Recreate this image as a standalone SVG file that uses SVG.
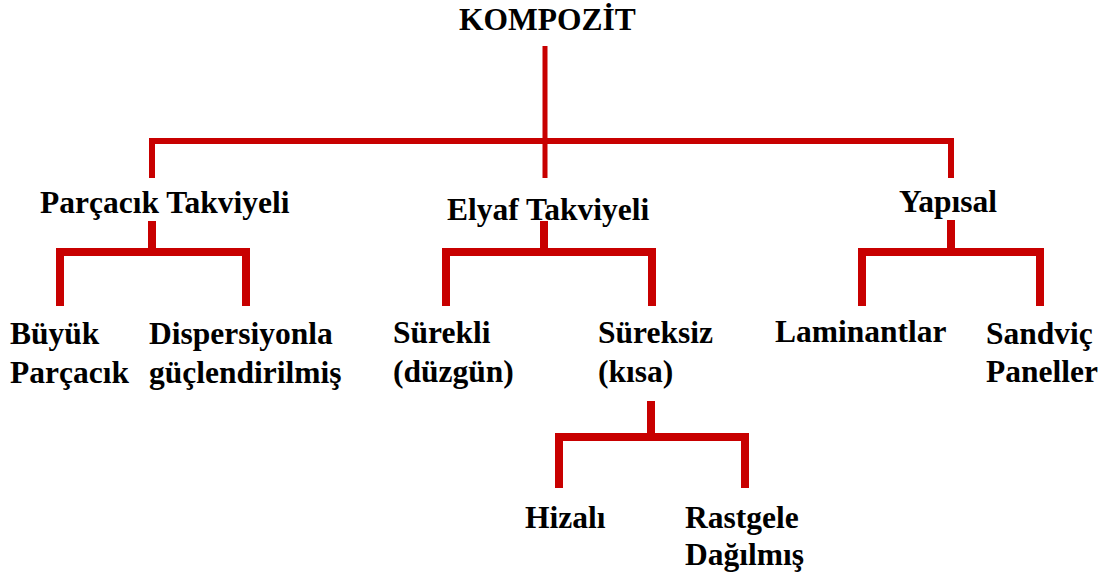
<svg xmlns="http://www.w3.org/2000/svg" width="1102" height="574" viewBox="0 0 1102 574">
<style>
text{font-family:"Liberation Serif","Times New Roman",serif;font-weight:bold;font-size:31.5px;fill:#000}
.c{fill:none;stroke:#C80000;stroke-linejoin:miter;stroke-linecap:butt}
.t{stroke-width:6}
.s{stroke-width:5}
.b{stroke-width:8}
</style>
<rect width="1102" height="574" fill="#fff"/>
<g id="connectors">
<path class="c s" d="M545,46 V178"/>
<path class="c t" d="M152,178 V141 H951 V178"/>
<path class="c b" d="M152,221 V252"/>
<path class="c b" d="M60,306 V252 H246 V306"/>
<path class="c b" d="M544,221 V252"/>
<path class="c b" d="M446,306 V252 H652 V306"/>
<path class="c b" d="M951,220 V252"/>
<path class="c b" d="M862,306 V252 H1040 V306"/>
<path class="c b" d="M651,401 V437"/>
<path class="c b" d="M559,488 V437 H745 V488"/>
</g>
<g id="kompozit"><text x="459" y="30">KOMPOZİT</text></g>
<g id="parcacik"><text x="40" y="213">Parçacık Takviyeli</text></g>
<g id="elyaf"><text x="447" y="220">Elyaf Takviyeli</text></g>
<g id="yapisal"><text x="899" y="212">Yapısal</text></g>
<g id="buyuk"><text x="10" y="344">Büyük</text><text x="10" y="383">Parçacık</text></g>
<g id="dispersiyon"><text x="149" y="344">Dispersiyonla</text><text x="149" y="383">güçlendirilmiş</text></g>
<g id="surekli"><text x="393" y="343">Sürekli</text><text x="393" y="382">(düzgün)</text></g>
<g id="sureksiz"><text x="598" y="343">Süreksiz</text><text x="598" y="382">(kısa)</text></g>
<g id="laminantlar"><text x="775" y="342">Laminantlar</text></g>
<g id="sandvic"><text x="986" y="344">Sandviç</text><text x="986" y="382">Paneller</text></g>
<g id="hizali"><text x="525" y="528">Hizalı</text></g>
<g id="rastgele"><text x="685" y="528">Rastgele</text><text x="685" y="565">Dağılmış</text></g>
</svg>
